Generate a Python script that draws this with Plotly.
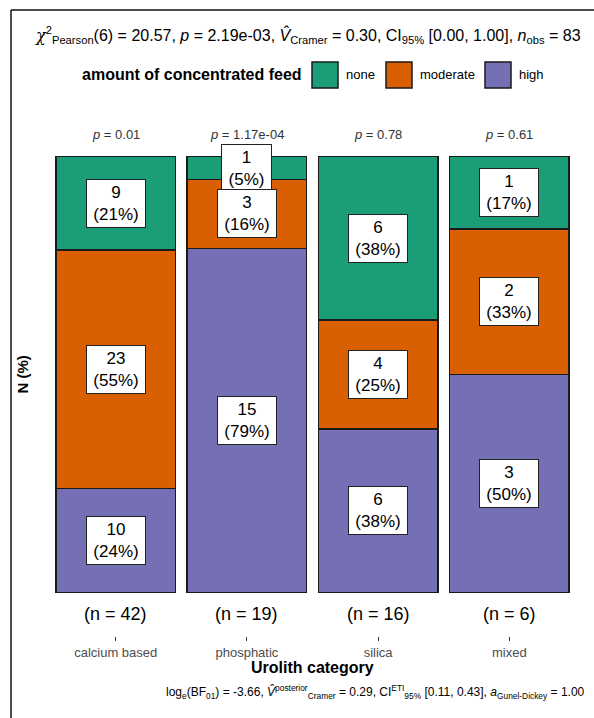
import plotly.graph_objects as go

# Urolith categories and feed levels
categories = ["calcium based", "phosphatic", "silica", "mixed"]
feed_levels = ["none", "moderate", "high"]

# Counts per feed level within each urolith category
counts_none = [9, 1, 6, 1]
counts_moderate = [23, 3, 4, 2]
counts_high = [10, 15, 6, 3]

# One-sample proportion test p-values per category
p_values = ["0.01", "1.17e-04", "0.78", "0.61"]

colors = {"none": "#1B9E77", "moderate": "#D95F02", "high": "#7570B3"}
FONT = "Liberation Sans, Arial, sans-serif"

W, H = 594, 718
ML, MR, MT, MB = 37, 6, 113, 82
PW, PH = W - ML - MR, H - MT - MB

# approximate Arial advance widths (em) for sizing label boxes
CHAR_W = {"(": 0.333, ")": 0.333, "%": 0.889}


def text_width(s, size):
    return sum(CHAR_W.get(c, 0.556) for c in s) * size


def px_x(px):
    return (px - ML) / PW


def px_y(py):
    return (H - MB - py) / PH


series = {"none": counts_none, "moderate": counts_moderate, "high": counts_high}
totals = [sum(t) for t in zip(counts_none, counts_moderate, counts_high)]

fig = go.Figure()

# stacked from the bottom: high, moderate, none
for level in ["high", "moderate", "none"]:
    vals = series[level]
    fig.add_trace(go.Bar(
        x=categories,
        y=[v / t for v, t in zip(vals, totals)],
        name=level,
        marker=dict(color=colors[level], line=dict(color="#1a1a1a", width=1.5)),
        showlegend=False,
        hoverinfo="skip",
    ))

annotations = []

# segment labels: count and percentage at the middle of each segment
LABEL_SIZE = 17
for i, cat in enumerate(categories):
    base = 0.0
    segs = []
    for level in ["high", "moderate", "none"]:
        v = series[level][i]
        frac = v / totals[i]
        segs.append((level, v, frac, base + frac / 2))
        base += frac
    # none first so lower labels sit on top when boxes overlap
    for level, v, frac, mid in reversed(segs):
        pct = int(100 * frac + 0.5)
        line2 = f"({pct}%)"
        w = max(text_width(line2, LABEL_SIZE), text_width(str(v), LABEL_SIZE))
        annotations.append(dict(
            x=cat, y=mid, xref="x", yref="y",
            text=f"{v}<br>{line2}",
            showarrow=False, width=round(w + 7),
            font=dict(family=FONT, size=LABEL_SIZE, color="black"),
            bgcolor="white", bordercolor="#222", borderwidth=1, borderpad=3,
            align="center",
        ))

# p-values above each bar
for cat, p in zip(categories, p_values):
    annotations.append(dict(
        x=cat, y=1.05, xref="x", yref="y",
        text=f"<i>p</i> = {p}", showarrow=False,
        font=dict(family=FONT, size=13, color="#333333"),
    ))

# sample sizes below each bar
for cat, t in zip(categories, totals):
    annotations.append(dict(
        x=cat, y=-0.05, xref="x", yref="y",
        text=f"(n = {t})", showarrow=False,
        font=dict(family=FONT, size=18, color="black"),
    ))

# subtitle with the frequentist test
chi = '<span style="font-family:DejaVu Serif"><i>χ</i></span>'
annotations.append(dict(
    x=px_x(33), y=px_y(35), xref="paper", yref="paper",
    xanchor="left", yanchor="middle", showarrow=False,
    text=(f"{chi}<sup>2</sup><sub>Pearson</sub>(6) = 20.57, <i>p</i> = 2.19e-03, "
          "<i>V̂</i><sub>Cramer</sub> = 0.30, CI<sub>95%</sub> [0.00, 1.00], "
          "<i>n</i><sub>obs</sub> = 83"),
    font=dict(family=FONT, size=16, color="black"),
))

# caption with the Bayesian test
annotations.append(dict(
    x=px_x(587), y=px_y(692), xref="paper", yref="paper",
    xanchor="right", yanchor="middle", showarrow=False,
    text=("log<sub>e</sub>(BF<sub>01</sub>) = -3.66, "
          "<i>V̂</i><sup>posterior</sup><sub>Cramer</sub> = 0.29, "
          "CI<sup>ETI</sup><sub>95%</sub> [0.11, 0.43], "
          "<i>a</i><sub>Gunel-Dickey</sub> = 1.00"),
    font=dict(family=FONT, size=12, color="black"),
))

# axis titles
annotations.append(dict(
    x=0.5, y=px_y(667), xref="paper", yref="paper",
    xanchor="center", yanchor="middle", showarrow=False,
    text="<b>Urolith category</b>",
    font=dict(family=FONT, size=16, color="black"),
))
annotations.append(dict(
    x=px_x(22), y=0.5, xref="paper", yref="paper",
    xanchor="center", yanchor="middle", showarrow=False, textangle=-90,
    text="<b>N (%)</b>",
    font=dict(family=FONT, size=15, color="black"),
))

# legend row
legend_y = px_y(75)
annotations.append(dict(
    x=px_x(304), y=legend_y, xref="paper", yref="paper",
    xanchor="right", yanchor="middle", showarrow=False,
    text="<b>amount of concentrated feed</b>",
    font=dict(family=FONT, size=16, color="black"),
))
shapes = []
legend_items = [("none", 312), ("moderate", 386), ("high", 485)]
for level, x0 in legend_items:
    shapes.append(dict(
        type="rect", xref="paper", yref="paper",
        x0=px_x(x0), x1=px_x(x0 + 26), y0=px_y(62), y1=px_y(88),
        fillcolor=colors[level], line=dict(color="#1a1a1a", width=1.5),
    ))
    annotations.append(dict(
        x=px_x(x0 + 32), y=legend_y, xref="paper", yref="paper",
        xanchor="left", yanchor="middle", showarrow=False,
        text=level, font=dict(family=FONT, size=13, color="black"),
    ))

# outer frame lines
shapes.append(dict(type="line", xref="paper", yref="paper",
                   x0=px_x(11), x1=px_x(11), y0=px_y(10), y1=px_y(H + 5),
                   line=dict(color="#111", width=1.5)))
shapes.append(dict(type="line", xref="paper", yref="paper",
                   x0=px_x(11), x1=px_x(W + 5), y0=px_y(10), y1=px_y(10),
                   line=dict(color="#111", width=1.5)))

fig.update_layout(
    width=W, height=H,
    margin=dict(l=ML, r=MR, t=MT, b=MB, pad=0),
    barmode="stack", bargap=0.09,
    plot_bgcolor="white", paper_bgcolor="white",
    font=dict(family=FONT),
    annotations=annotations,
    shapes=shapes,
    xaxis=dict(
        range=[-0.6, 3.6], showgrid=False, zeroline=False, showline=False,
        ticks="outside", ticklen=4, tickwidth=1, tickcolor="#333333",
        tickfont=dict(family=FONT, size=13, color="#4D4D4D"),
        fixedrange=True,
    ),
    yaxis=dict(
        range=[-0.1, 1.1], showgrid=False, zeroline=False, showline=False,
        showticklabels=False, ticks="", fixedrange=True,
    ),
)

fig.write_html("out.html")
